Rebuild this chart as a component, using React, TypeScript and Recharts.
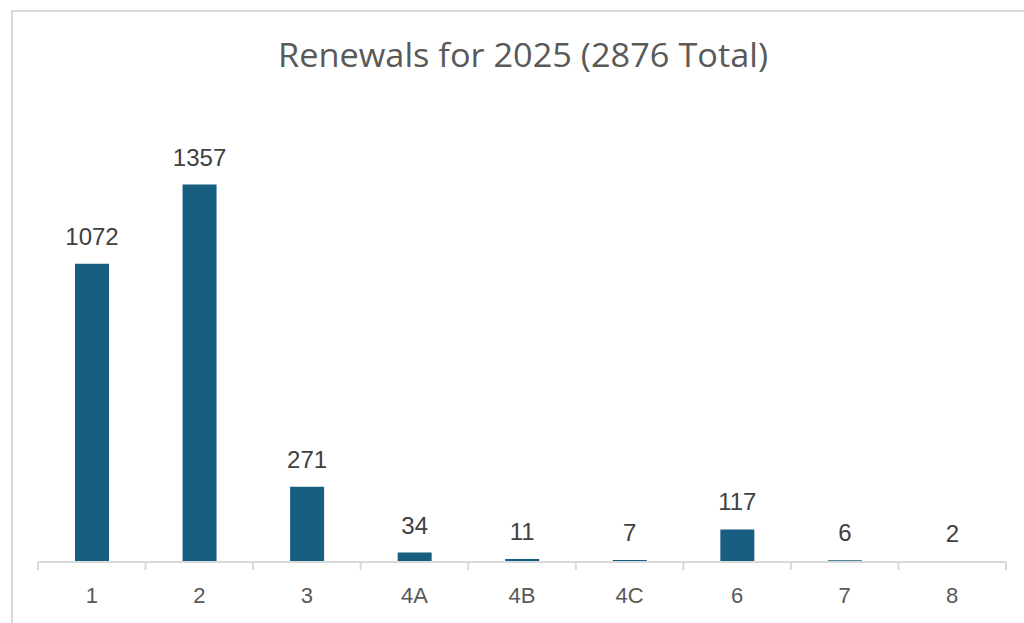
import { Bar, BarChart, LabelList, ReferenceLine, XAxis, YAxis } from "recharts";

const categories = ["1", "2", "3", "4A", "4B", "4C", "6", "7", "8"];
const renewals = [1072, 1357, 271, 34, 11, 7, 117, 6, 2];

const data = categories.map((name, i) => ({ name, value: renewals[i] }));

const W = 1024;
const H = 623;
const GRID = "#d9d9d9";

// label plus the boundary tick marks Excel draws between categories
function CategoryTick(props: any) {
  const { x, y, payload, index } = props;
  const half = payload.offset || 0;
  const last = index === categories.length - 1;
  return (
    <g>
      <line x1={x - half} x2={x - half} y1={y} y2={y + 8} stroke={GRID} strokeWidth={2} />
      {last && <line x1={x + half} x2={x + half} y1={y} y2={y + 8} stroke={GRID} strokeWidth={2} />}
      <text x={x} y={y + 41} textAnchor="middle" fontSize={22} fill="#595959">
        {payload.value}
      </text>
    </g>
  );
}

export default function App() {
  return (
    <div style={{ position: "absolute", left: 0, top: 0, width: W, height: H, overflow: "hidden", background: "#fff" }}>
      <div
        style={{
          position: "absolute",
          left: 11,
          top: 10,
          width: 1100,
          height: 700,
          border: "2px solid " + GRID,
        }}
      />
      <svg width={W} height={100} style={{ position: "absolute", left: 0, top: 0 }}>
        <text
          x={523}
          y={67}
          textAnchor="middle"
          fontFamily="'Open Sans', sans-serif"
          fontSize={33}
          fill="#595959"
          textLength={490}
          lengthAdjust="spacingAndGlyphs"
        >
          Renewals for 2025 (2876 Total)
        </text>
      </svg>
      <div style={{ position: "absolute", left: 0, top: 0 }}>
        <BarChart
          width={W}
          height={H}
          data={data}
          margin={{ top: 117, right: 18, bottom: 0, left: 38 }}
          style={{ fontFamily: "'Liberation Sans', Arial, sans-serif" }}
        >
          <XAxis
            dataKey="name"
            height={61}
            axisLine={false}
            tickLine={false}
            tickSize={0}
            tickMargin={0}
            interval={0}
            tick={<CategoryTick />}
          />
          <YAxis hide domain={[0, 1600]} />
          <Bar dataKey="value" fill="#175e80" barSize={34} isAnimationActive={false}>
            <LabelList dataKey="value" position="top" offset={19} fontSize={24} fill="#404040" />
          </Bar>
          <ReferenceLine y={0} stroke={GRID} strokeWidth={2} />
        </BarChart>
      </div>
    </div>
  );
}
